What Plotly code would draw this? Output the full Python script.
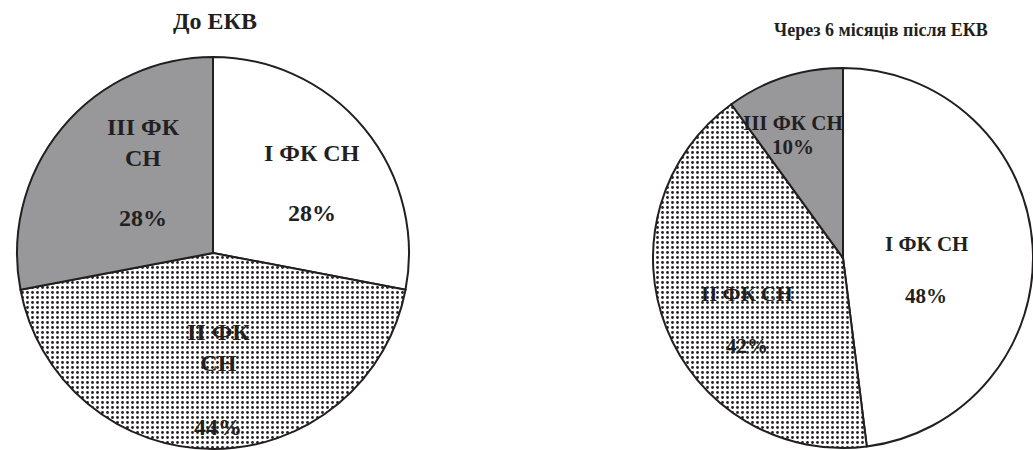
import plotly.graph_objects as go

W, H = 1033, 450

categories = ["I ФК СН", "II ФК СН", "III ФК СН"]
labels_left = ["I ФК СН", "II ФК<br>СН", "III ФК<br>СН"]
labels_right = ["I ФК СН", "II ФК СН", "III ФК СН"]
before_values = [28, 44, 28]
after_values = [48, 42, 10]
titles = ["До ЕКВ", "Через 6 місяців після ЕКВ"]

INK = "#231f20"
GRAY = "#98989b"
FONT = "Liberation Serif, Times New Roman, serif"

def px_domain(cx, cy, r):
    return dict(x=[(cx - r) / W, (cx + r) / W],
                y=[(H - cy - r) / H, (H - cy + r) / H])

fill_colors = ["white", "white", GRAY]
patterns = dict(shape=["", ".", ""], fgcolor=INK, bgcolor=["white", "white", GRAY],
                size=5, solidity=0.25)

fig = go.Figure()
for vals, dom in [(before_values, px_domain(213, 253, 196)),
                  (after_values, px_domain(843, 258, 190))]:
    fig.add_trace(go.Pie(
        labels=categories, values=vals, sort=False, direction="clockwise",
        rotation=0, textinfo="none", hoverinfo="label+percent",
        marker=dict(colors=fill_colors, pattern=patterns,
                    line=dict(color=INK, width=2)),
        domain=dom, showlegend=False,
    ))

def ann(text, x, y, size):
    return dict(text=f"<b>{text}</b>", x=x / W, y=1 - y / H, xref="paper", yref="paper",
                showarrow=False, xanchor="center", yanchor="middle",
                font=dict(family=FONT, size=size, color=INK))

annotations = []
# left pie labels
lp_label_pos = [(312, 153), (218, 347), (143, 143)]
lp_pct_pos = [(312, 213), (218, 427), (143, 218)]
for lab, v, (lx, ly), (px, py) in zip(labels_left, before_values, lp_label_pos, lp_pct_pos):
    annotations.append(ann(lab, lx, ly, 24))
    annotations.append(ann(f"{v}%", px, py, 24))
# right pie labels
rp_label_pos = [(926, 244), (747, 294), (793, 123)]
rp_pct_pos = [(926, 296), (747, 346), (793, 147)]
for lab, v, (lx, ly), (px, py) in zip(labels_right, after_values, rp_label_pos, rp_pct_pos):
    annotations.append(ann(lab, lx, ly, 21))
    annotations.append(ann(f"{v}%", px, py, 21))
# titles
annotations.append(ann(titles[0], 215, 21, 24))
annotations.append(ann(titles[1], 881, 30, 18))

fig.update_layout(
    width=W, height=H, margin=dict(l=0, r=0, t=0, b=0),
    paper_bgcolor="white", plot_bgcolor="white",
    annotations=annotations, showlegend=False,
)

fig.write_html("out.html")
